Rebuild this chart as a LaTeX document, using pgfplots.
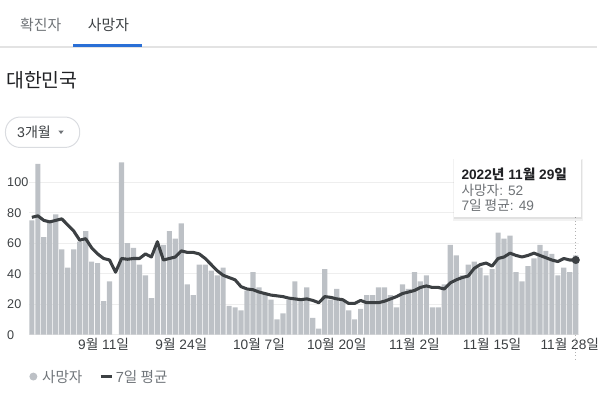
\documentclass[border=0pt]{standalone}
\usepackage{fontspec}
\setmainfont{Liberation Sans}
\newfontfamily\kr{Noto Sans CJK KR}
\usepackage{pgfplots}
\pgfplotsset{compat=1.18}
\definecolor{barc}{HTML}{BDC1C6}
\definecolor{linec}{HTML}{3C4043}
\definecolor{gridc}{HTML}{EEEEEE}
\definecolor{sepc}{HTML}{E3E3E3}
\definecolor{gblue}{HTML}{2A6FD6}
\definecolor{tabgray}{HTML}{6F7377}
\definecolor{tabdark}{HTML}{3C4043}
\definecolor{titlec}{HTML}{202124}
\definecolor{borderc}{HTML}{DADCE0}
\definecolor{tickc}{HTML}{3C4043}
\definecolor{legc}{HTML}{70757A}
\newcommand{\K}[1]{{\kr #1}}

\pgfplotstableread{
d v
0 75
1 112
2 64
3 74
4 79
5 56
6 44
7 56
8 61
9 68
10 48
11 47
12 22
13 35
15 113
16 60
17 57
18 46
19 39
20 24
21 59
22 59
23 68
24 63
25 73
26 33
27 26
28 46
29 46
30 42
31 39
32 44
33 19
34 18
35 16
36 29
37 41
38 31
39 27
40 23
41 10
42 14
43 23
44 35
45 23
46 31
47 11
48 4
49 43
50 23
51 30
52 23
53 16
54 10
55 17
56 26
57 26
58 31
59 31
60 26
61 18
62 33
63 30
64 41
65 35
66 39
67 18
68 18
69 33
70 59
71 52
72 39
73 46
74 48
75 44
76 39
77 43
78 67
79 63
80 65
81 41
82 35
83 45
84 50
85 59
86 55
87 53
88 39
89 44
90 41
91 52
}\deaths

\pgfplotstableread{
d v
0 77
1 78
2 75
3 74
4 75
5 76
6 72
7 68
8 62
9 63
10 57
11 53
12 50
13 49
14 41
15 50
16 49.5
17 50
18 50
19 53
20 51
21 61
22 49
23 50
24 51
25 55
26 54
27 54
28 53
29 50
30 46
31 42
32 39
33 37.5
34 36
35 31.5
36 30
37 29.5
38 28
39 27
40 26
41 25.5
42 25
43 24
44 23.5
45 23
46 23.5
47 22.5
48 21
49 25
50 24.5
51 23.5
52 23
53 20.5
54 20.5
55 22.5
56 21
57 21
58 21
59 22
60 23.5
61 25
62 27
63 28
64 29
65 31
66 32
67 31
68 31
69 30
70 34
71 36
72 37.5
73 38.5
74 43.5
75 46
76 47
77 45
78 50
79 51
80 53.5
81 52
82 51
83 52
84 53.5
85 52
86 50.5
87 49
88 48
89 50
90 49
91 49
}\avg

\begin{document}
\begin{tikzpicture}
\begin{scope}[x=0.75pt,y=-0.75pt]
\useasboundingbox (0,0) rectangle (599,397);
% tabs
\node[anchor=west, inner sep=0pt, font=\kr\fontsize{11.2pt}{13pt}\selectfont, text=tabgray] at (20,25) {확진자};
\node[anchor=west, inner sep=0pt, font=\kr\fontsize{11.2pt}{13pt}\selectfont, text=tabdark] at (88,25) {사망자};
\fill[sepc] (0,46.5) rectangle (599,47.7);
\fill[gblue] (73,44) rectangle (143,47);
% title
\node[anchor=west, inner sep=0pt, font=\kr\fontsize{14.6pt}{16pt}\selectfont, text=titlec] at (6,80.5) {대한민국};
% dropdown
\draw[borderc, line width=0.75pt, rounded corners=11pt] (5.5,117.5) rectangle (80,148);
\node[anchor=west, inner sep=0pt, font=\fontsize{10.6pt}{12pt}\selectfont, text=tabdark] at (17,133) {3\K{개월}};
\fill[tabgray] (58.5,131) -- (64,131) -- (61.25,134.5) -- cycle;
\end{scope}

\begin{axis}[
  at={(21.75pt,-252pt)}, anchor=south west,
  scale only axis, width=414pt, height=132pt,
  xmin=-0.5, xmax=91.5, ymin=0, ymax=115,
  clip=false,
  axis line style={draw=none},
  major tick length=0pt,
  ytick={0,20,40,60,80,100},
  ymajorgrids, grid style={gridc, line width=0.75pt},
  xtick={12,25,38,51,64,77,90},
  xticklabels={{9\K{월} 11\K{일}},{9\K{월} 24\K{일}},{10\K{월} 7\K{일}},{10\K{월} 20\K{일}},{11\K{월} 2\K{일}},{11\K{월} 15\K{일}},{11\K{월} 28\K{일}}},
  /pgf/number format/assume math mode=true,
  yticklabel style={anchor=west, inner sep=0pt, xshift=-16.5pt, text=tickc, font=\fontsize{9.5pt}{11pt}\selectfont},
  xticklabel style={anchor=base, inner sep=0pt, yshift=-11.25pt, text=tickc, font=\fontsize{10.3pt}{12pt}\selectfont},
]
\draw[dotted, line width=0.6pt, color=gray!60] (axis cs:91,77) -- (axis cs:91,-18);
\addplot[ybar, bar width=3.9pt, fill=barc, draw=none] table[x=d, y=v] {\deaths};
\addplot[linec, line width=2.3pt, line join=round, mark=none] table[x=d, y=v] {\avg};
\addplot[only marks, mark=*, mark size=2.8pt, color=linec] coordinates {(91,49)};
\end{axis}

\begin{scope}[x=0.75pt,y=-0.75pt]
% tooltip
\fill[black, opacity=0.05] (454.5,160) rectangle (585.5,221.5);
\fill[black, opacity=0.07] (455.5,161) rectangle (584.5,220);
\fill[white] (456,160) rectangle (583,218);
\node[anchor=west, inner sep=0pt, font=\bfseries\fontsize{10.3pt}{12pt}\selectfont, text=titlec] at (463,175) {2022\K{\bfseries 년} 11\K{\bfseries 월} 29\K{\bfseries 일}};
\node[anchor=west, inner sep=0pt, font=\fontsize{10.3pt}{12pt}\selectfont, text=tabgray] at (463,191) {\K{사망자}: 52};
\node[anchor=west, inner sep=0pt, font=\fontsize{10.3pt}{12pt}\selectfont, text=tabgray] at (463,206) {7\K{일 평균}: 49};
% legend
\fill[barc] (33.5,378) circle (4);
\node[anchor=west, inner sep=0pt, font=\kr\fontsize{11pt}{13pt}\selectfont, text=legc] at (42,378) {사망자};
\draw[linec, line width=2.2pt] (101,378) -- (112,378);
\node[anchor=west, inner sep=0pt, font=\fontsize{11pt}{13pt}\selectfont, text=legc] at (116,378) {7\K{일 평균}};
\end{scope}
\end{tikzpicture}
\end{document}
